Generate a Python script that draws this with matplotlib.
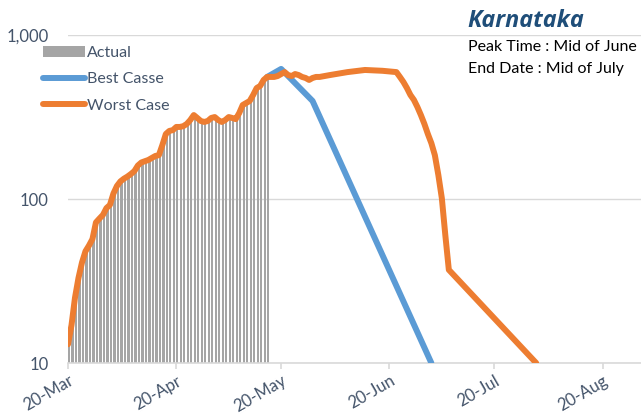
import numpy as np
import matplotlib.pyplot as plt
import matplotlib.dates as mdates
from matplotlib.patches import Patch
from matplotlib.lines import Line2D

plt.rcParams['font.family'] = ['Lato', 'DejaVu Sans']

start = np.datetime64('2020-03-20')

# фактические данные (по дням с 20 марта)
actual = [13, 17, 25, 33, 41, 48, 52, 57, 72, 76,
          80, 88, 92, 108, 120, 128, 133, 137, 142, 148,
          160, 167, 170, 173, 178, 183, 185, 213, 249, 260,
          263, 275, 275, 278, 287, 303, 325, 312, 299, 295,
          299, 312, 316, 303, 295, 303, 316, 312, 307, 334,
          374, 385, 396, 431, 475, 489, 532, 555]

# лучший сценарий
best_days = [57, 61, 70, 104]
best_vals = [555, 621, 396, 10]

# худший сценарий (продолжение после фактических данных)
worst_days = [58, 59, 60, 61, 62, 63, 64, 65, 66, 67, 68, 69, 70, 71, 72,
              75, 80, 85, 90, 94, 95, 96, 97, 98, 99, 100, 101, 102, 103,
              104, 105, 106, 107, 108, 109, 134]
worst_vals = [555, 555, 562, 578, 594, 570, 562, 578, 570, 555, 547, 532, 547, 555, 555,
              570, 594, 612, 605, 594, 555, 517, 475, 431, 402, 364, 325, 287, 249,
              219, 185, 140, 101, 60, 37, 10]

act_dates = start + np.arange(len(actual))
best_dates = start + np.array(best_days)
worst_dates = start + np.array(list(range(len(actual))) + worst_days)
worst_all = actual + worst_vals

txt_col = '#44546A'
lw = 4.3

fig = plt.figure(figsize=(6.41, 4.18), dpi=100)
ax = fig.add_axes([68 / 641, 1 - 363 / 418, 1 - 68 / 641, (363 - 35) / 418])

ax.bar(act_dates, actual, width=0.62, align='edge', color='#A5A5A5', zorder=2)
ax.plot(best_dates, best_vals, color='#5B9BD5', lw=lw, solid_capstyle='round', zorder=3)
ax.plot(worst_dates, worst_all, color='#ED7D31', lw=lw, solid_capstyle='round',
        solid_joinstyle='round', zorder=4)

ax.set_yscale('log')
ax.set_ylim(10, 1000)
ax.set_yticks([10, 100, 1000])
ax.set_yticklabels(['10', '100', '1,000'])
ax.minorticks_off()
ax.set_xlim(start, start + np.timedelta64(164, 'D'))
ax.xaxis.set_major_locator(mdates.DayLocator(bymonthday=20))
ax.xaxis.set_major_formatter(mdates.DateFormatter('%d-%b'))

ax.grid(axis='y', color='#D9D9D9', lw=1, zorder=0)
for s in ['top', 'right', 'left']:
    ax.spines[s].set_visible(False)
ax.spines['bottom'].set_color('#D9D9D9')
ax.spines['bottom'].set_linewidth(1.2)
ax.tick_params(axis='y', length=0, pad=14, labelsize=12, labelcolor=txt_col)
ax.tick_params(axis='x', length=4, color='#D9D9D9', width=1.2, pad=3,
               labelsize=12, labelcolor=txt_col)
for lab in ax.get_xticklabels():
    lab.set_rotation(30)
    lab.set_ha('right')
    lab.set_va('top')
    lab.set_rotation_mode('anchor')

handles = [Patch(facecolor='#A5A5A5', edgecolor='none'),
           Line2D([], [], color='#5B9BD5', lw=lw, solid_capstyle='round'),
           Line2D([], [], color='#ED7D31', lw=lw, solid_capstyle='round')]
leg = fig.legend(handles, ['Actual', 'Best Casse', 'Worst Case'], loc='upper left',
                 bbox_to_anchor=(43 / 641, 1 - 46 / 418), frameon=False, fontsize=11.5,
                 handlelength=2.6, handleheight=0.65, handletextpad=0.15,
                 labelspacing=0.78, borderpad=0, borderaxespad=0)
for t in leg.get_texts():
    t.set_color(txt_col)

fig.text(467 / 641, 1 - 21 / 418, 'Karnataka', fontsize=16.8, fontweight='bold',
         fontstyle='italic', color='#1F4E79', va='center', family='Open Sans')
fig.text(468 / 641, 1 - 47 / 418, 'Peak Time : Mid of June', fontsize=11.5, va='center')
fig.text(468 / 641, 1 - 69 / 418, 'End Date : Mid of July', fontsize=11.5, va='center')

fig.savefig('out.png', dpi=100)
